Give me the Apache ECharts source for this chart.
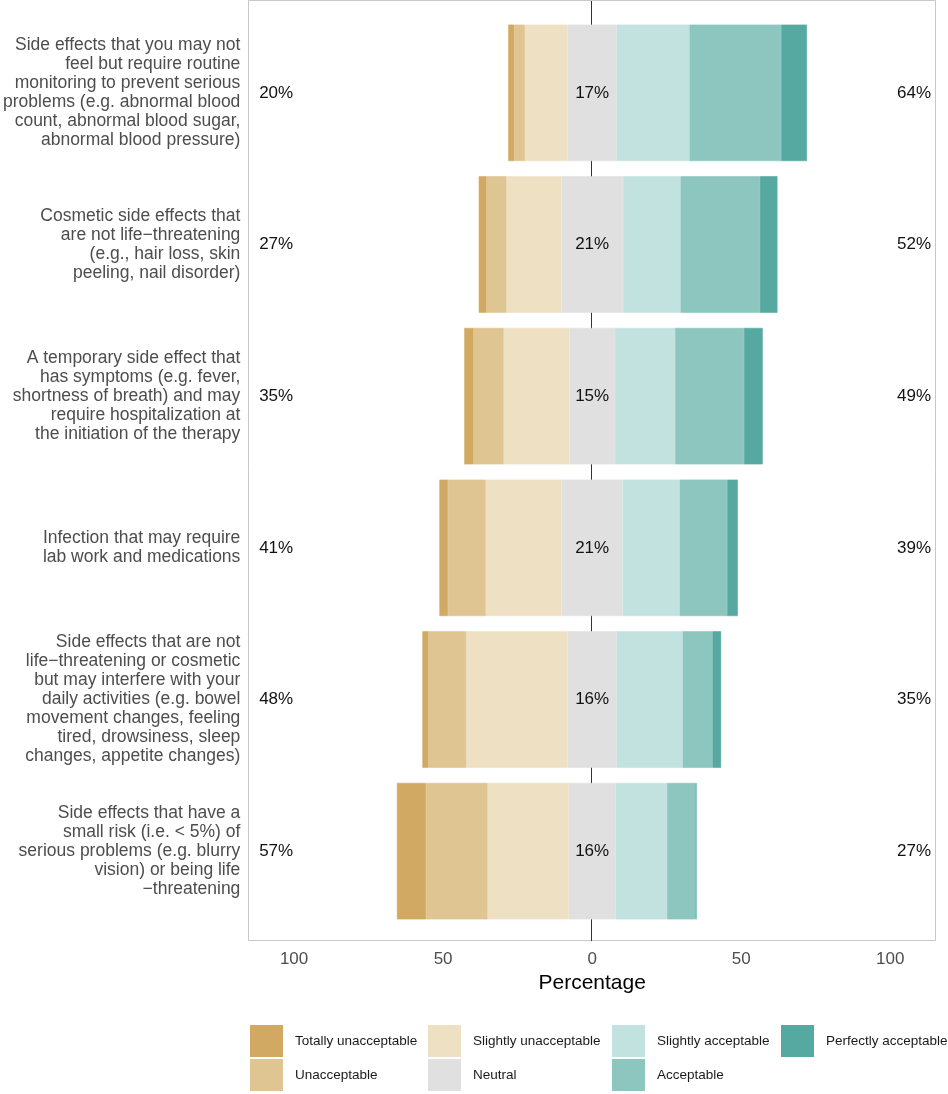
<!DOCTYPE html>
<html>
<head>
<meta charset="utf-8">
<script src="https://cdn.jsdelivr.net/npm/echarts@6/dist/echarts.min.js"></script>
<style>
  html, body { margin: 0; padding: 0; background: #fff; }
  #main { width: 948px; height: 1094px; }
</style>
</head>
<body>
<div id="main"></div>
<script>
// questions, top to bottom
var questions = [
    'Side effects that you may not\nfeel but require routine\nmonitoring to prevent serious\nproblems (e.g. abnormal blood\ncount, abnormal blood sugar,\nabnormal blood pressure)',
    'Cosmetic side effects that\nare not life\u2212threatening\n(e.g., hair loss, skin\npeeling, nail disorder)',
    'A temporary side effect that\nhas symptoms (e.g. fever,\nshortness of breath) and may\nrequire hospitalization at\nthe initiation of the therapy',
    'Infection that may require\nlab work and medications',
    'Side effects that are not\nlife\u2212threatening or cosmetic\nbut may interfere with your\ndaily activities (e.g. bowel\nmovement changes, feeling\ntired, drowsiness, sleep\nchanges, appetite changes)',
    'Side effects that have a\nsmall risk (i.e. < 5%) of\nserious problems (e.g. blurry\nvision) or being life\n\u2212threatening'
];

// percentages per answer level
var totallyUnacc  = [2.0, 2.6, 3.1, 2.9, 2.0, 9.8];
var unacc         = [3.6, 6.7, 10.1, 12.6, 12.7, 20.6];
var slightlyUnacc = [14.3, 18.4, 22.1, 25.5, 34.0, 27.2];
var neutral       = [16.5, 20.7, 15.2, 20.5, 16.5, 15.8];
var slightlyAcc   = [24.4, 19.3, 20.2, 19.1, 22.1, 17.2];
var acc           = [30.7, 26.6, 23.1, 15.9, 10.0, 9.6];
var perfectlyAcc  = [8.7, 5.9, 6.3, 3.6, 2.9, 0.3];

// summary labels
var lowPct     = [20, 27, 35, 41, 48, 57];
var neutralPct = [17, 21, 15, 21, 16, 16];
var highPct    = [64, 52, 49, 39, 35, 27];

var xTicks = [-100, -50, 0, 50, 100];

var colors = {
    'Totally unacceptable': '#d1a962',
    'Unacceptable': '#dfc592',
    'Slightly unacceptable': '#eee0c3',
    'Neutral': '#e0e0e0',
    'Slightly acceptable': '#c2e2df',
    'Acceptable': '#8cc6be',
    'Perfectly acceptable': '#56a9a0'
};

function neg(arr){ return arr.map(function(v){ return -v; }); }
function half(arr, sign){ return arr.map(function(v){ return sign * v / 2; }); }

function barSeries(name, data, stack){
    return {
        name: name,
        type: 'bar',
        stack: stack || 'total',
        barWidth: '90%',
        barGap: '-100%',
        z: 3,
        itemStyle: { color: colors[name], borderColor: colors[name], borderWidth: 0.6 },
        data: data
    };
}

// invisible spacer so a stack starts at the edge of the neutral block
function spacer(data, stack, strategy){
    return {
        type: 'bar',
        stack: stack,
        stackStrategy: strategy || 'samesign',
        barWidth: '90%',
        barGap: '-100%',
        silent: true,
        z: 3,
        itemStyle: { color: 'rgba(0,0,0,0)' },
        data: data
    };
}

function labelSeries(x, values){
    return {
        type: 'scatter',
        symbolSize: 0,
        silent: true,
        z: 5,
        itemStyle: { opacity: 1 },
        label: {
            show: true,
            position: 'inside',
            color: '#111',
            fontSize: 17,
            fontFamily: 'Liberation Sans',
            formatter: function(p){ return p.value[2] + '%'; }
        },
        data: values.map(function(v, i){ return [x, i, v]; })
    };
}

function legendCol(left, names){
    return {
        orient: 'vertical',
        left: left,
        top: 1025,
        padding: 0,
        itemWidth: 33,
        itemHeight: 32,
        itemGap: 2,
        icon: 'rect',
        itemStyle: { borderWidth: 0 },
        selectedMode: false,
        textStyle: { fontSize: 13.5, color: '#1a1a1a', fontFamily: 'Liberation Sans', padding: [0, 0, 0, 7] },
        data: names
    };
}

var myChart = echarts.init(document.getElementById('main'));

var neutralBar = barSeries('Neutral', neutral, 'mid');
neutralBar.stackStrategy = 'all';

var option = {
    animation: false,
    backgroundColor: '#fff',
    grid: [
        { left: 248, width: 687, top: 17, height: 910 },
        { left: 248, width: 687, top: 1, height: 940 }
    ],
    graphic: [{
        type: 'rect',
        silent: true,
        z: -1,
        shape: { x: 248.5, y: 0.5, width: 687, height: 940 },
        style: { fill: 'none', stroke: '#c8c8c8', lineWidth: 1 }
    }],
    legend: [
        legendCol(250, ['Totally unacceptable', 'Unacceptable']),
        legendCol(428, ['Slightly unacceptable', 'Neutral']),
        legendCol(612, ['Slightly acceptable', 'Acceptable']),
        legendCol(781, ['Perfectly acceptable'])
    ],
    xAxis: [{
        type: 'value',
        min: -115,
        max: 115,
        name: 'Percentage',
        nameLocation: 'middle',
        nameGap: 41,
        nameTextStyle: { fontSize: 21, color: '#000', fontFamily: 'Liberation Sans' },
        axisLine: { show: false },
        axisTick: { show: false },
        splitLine: { show: false },
        axisLabel: {
            customValues: xTicks,
            margin: 24,
            fontSize: 17,
            color: '#4d4d4d',
            fontFamily: 'Liberation Sans',
            formatter: function(v){ return Math.abs(v); }
        }
    }, {
        // full-height panel for the zero line
        gridIndex: 1,
        type: 'value',
        min: -115,
        max: 115,
        show: false
    }],
    yAxis: [{
        type: 'category',
        inverse: true,
        data: questions,
        axisLine: { show: false },
        axisTick: { show: false },
        axisLabel: {
            margin: 9,
            fontSize: 17.5,
            lineHeight: 19,
            align: 'right',
            color: '#4d4d4d',
            fontFamily: 'Liberation Sans'
        }
    }, {
        gridIndex: 1,
        type: 'value',
        min: 0,
        max: 1,
        show: false
    }],
    series: [
        {
            type: 'line',
            xAxisIndex: 1,
            yAxisIndex: 1,
            z: 1,
            silent: true,
            symbol: 'none',
            lineStyle: { color: '#333', width: 1 },
            data: [[0, 0], [0, 1]]
        },
        // neutral block centred on zero
        spacer(half(neutral, -1), 'mid', 'all'),
        neutralBar,
        // disagree side
        spacer(half(neutral, -1), 'total'),
        barSeries('Slightly unacceptable', neg(slightlyUnacc)),
        barSeries('Unacceptable', neg(unacc)),
        barSeries('Totally unacceptable', neg(totallyUnacc)),
        // agree side
        spacer(half(neutral, 1), 'total'),
        barSeries('Slightly acceptable', slightlyAcc),
        barSeries('Acceptable', acc),
        barSeries('Perfectly acceptable', perfectlyAcc),
        labelSeries(-106, lowPct),
        labelSeries(0, neutralPct),
        labelSeries(108, highPct)
    ]
};

myChart.setOption(option);
</script>
</body>
</html>
